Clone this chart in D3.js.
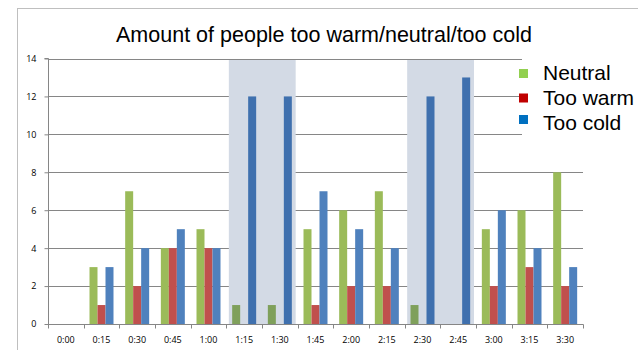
<!DOCTYPE html>
<html>
<head>
<meta charset="utf-8">
<script src="https://cdn.jsdelivr.net/npm/d3@7"></script>
<style>
  html, body { margin: 0; padding: 0; background: #fff; }
  svg { display: block; }
</style>
</head>
<body>
<svg id="chart" width="638" height="350"></svg>
<script>
const categories = ["0:00","0:15","0:30","0:45","1:00","1:15","1:30","1:45","2:00","2:15","2:30","2:45","3:00","3:15","3:30"];
const seriesNames = ["Neutral","Too warm","Too cold"];
const neutral = [0,3,7,4,5,1,1,5,6,7,1,0,5,6,8];
const tooWarm = [0,1,2,4,4,0,0,1,2,2,0,0,2,3,2];
const tooCold = [0,3,4,5,4,12,12,7,5,4,12,13,6,4,3];
const yTicks = [0,2,4,6,8,10,12,14];
const highlighted = [["1:15","1:30"],["2:30","2:45"]];
const title = "Amount of people too warm/neutral/too cold";

const barColors = {"Neutral":"#9BBB59","Too warm":"#C0504D","Too cold":"#4F81BD"};
const barColorsDim = {"Neutral":"#7FA05B","Too warm":"#A5504D","Too cold":"#3F70AE"};
const legendColors = {"Neutral":"#92D050","Too warm":"#C00000","Too cold":"#0070C0"};
const seriesValues = {"Neutral":neutral,"Too warm":tooWarm,"Too cold":tooCold};

const svg = d3.select("#chart");
const plot = {left:48, right:583, top:58.5, bottom:324};

// outer frame
svg.append("rect").attr("x",17.5).attr("y",8.5).attr("width",700).attr("height",400)
  .attr("fill","#fff").attr("stroke","#BFBFBF").attr("stroke-width",1);

const x = d3.scaleBand().domain(categories).range([plot.left, plot.right]).padding(0);
const x1 = d3.scaleBand().domain(seriesNames).range([0, x.bandwidth()]).paddingInner(0).paddingOuter(0.73);
const y = d3.scaleLinear().domain([0,14]).range([plot.bottom, plot.top]);

// gridlines
svg.append("g").selectAll("line").data(yTicks.filter(t=>t>0)).join("line")
  .attr("x1",plot.left).attr("x2",plot.right)
  .attr("y1",d=>Math.round(y(d))+0.5).attr("y2",d=>Math.round(y(d))+0.5)
  .attr("stroke","#868686").attr("stroke-width",1);

// highlight bands
const highlightedSet = new Set(highlighted.flat());
svg.append("g").selectAll("rect").data(highlighted).join("rect")
  .attr("x",d=>x(d[0])+2.5)
  .attr("width",d=>x(d[1])+x.bandwidth()-2 - (x(d[0])+2.5))
  .attr("y",y(14)+1.5)
  .attr("height",d=>y(0)-y(14)-1.5)
  .attr("fill","#D3DAE5");

// bars
const rows = categories.map((c,i)=>({cat:c, vals:seriesNames.map(s=>({s, v:seriesValues[s][i], cat:c}))}));
svg.append("g").selectAll("g").data(rows).join("g")
  .attr("transform",d=>`translate(${x(d.cat)},0)`)
  .selectAll("rect").data(d=>d.vals.filter(v=>v.v>0)).join("rect")
  .attr("x",d=>x1(d.s))
  .attr("width",x1.bandwidth())
  .attr("y",d=>y(d.v))
  .attr("height",d=>y(0)-y(d.v))
  .attr("fill",d=>highlightedSet.has(d.cat)?barColorsDim[d.s]:barColors[d.s]);

// y axis
const yAxis = d3.axisLeft(y).tickValues(yTicks).tickSize(4).tickPadding(8).tickFormat(d3.format("d"));
const gy = svg.append("g").attr("transform",`translate(${plot.left+0.5},0)`).call(yAxis);
gy.select(".domain").attr("stroke","#868686").attr("d",`M-4,${y(14)}H0V${y(0)}`);
gy.selectAll(".tick line").attr("stroke","#868686");
gy.selectAll("text").attr("font-family","'Open Sans', sans-serif").attr("font-size","9px").attr("fill","#000");

// x axis
const gx = svg.append("g").attr("transform",`translate(0,${plot.bottom+0.5})`);
gx.append("line").attr("x1",plot.left).attr("x2",plot.right+0.5).attr("stroke","#868686");
gx.selectAll("line.t").data(categories.concat(["end"])).join("line").attr("class","t")
  .attr("x1",(d,i)=>Math.round(plot.left + i*x.step())+0.5)
  .attr("x2",(d,i)=>Math.round(plot.left + i*x.step())+0.5)
  .attr("y1",0).attr("y2",4).attr("stroke","#868686");
gx.selectAll("text").data(categories).join("text")
  .attr("x",d=>x(d)+x.bandwidth()/2).attr("y",18.5)
  .attr("text-anchor","middle")
  .attr("font-family","'Open Sans', sans-serif").attr("font-size","9px").attr("fill","#000")
  .text(d=>d);

// title
svg.append("text").attr("x",324).attr("y",42).attr("text-anchor","middle")
  .attr("font-family","'Liberation Sans', Arial, sans-serif").attr("font-size","21.5px").attr("fill","#000")
  .text(title);

// legend
const lg = svg.append("g");
lg.append("rect").attr("x",522).attr("y",50).attr("width",116).attr("height",108).attr("fill","#fff");
const items = lg.selectAll("g").data(seriesNames).join("g")
  .attr("transform",(d,i)=>`translate(519,${80+i*25})`);
items.append("rect").attr("x",0).attr("y",(d,i)=>[-11,-11.5,-15][i]).attr("width",9).attr("height",9)
  .attr("fill",d=>legendColors[d]);
items.append("text").attr("x",24).attr("y",0)
  .attr("font-family","'Liberation Sans', Arial, sans-serif").attr("font-size","21px").attr("fill","#000")
  .text(d=>d);
</script>
</body>
</html>
